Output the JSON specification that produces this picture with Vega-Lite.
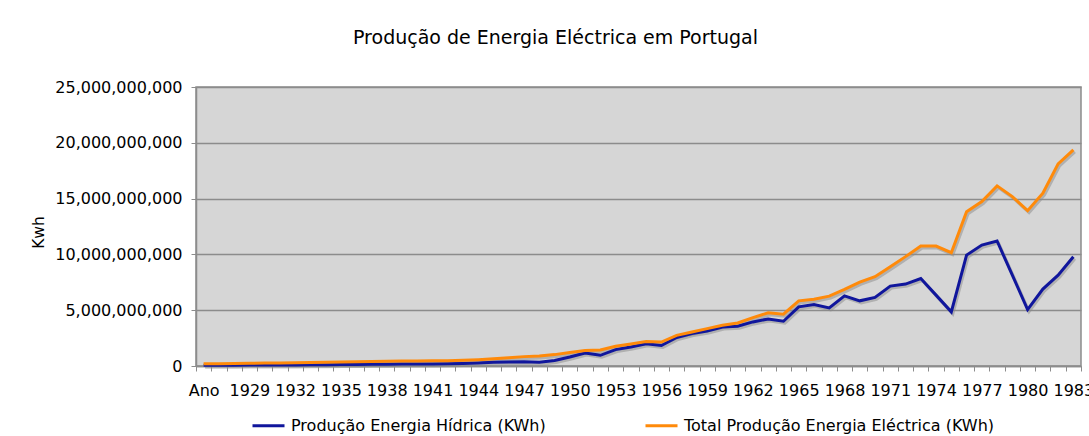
{
  "$schema": "https://vega.github.io/schema/vega-lite/v6.json",
  "width": 885,
  "height": 279,
  "autosize": {"type": "none"},
  "padding": {"left": 196, "top": 87, "right": 8, "bottom": 70},
  "background": "white",
  "title": {
    "text": "Produção de Energia Eléctrica em Portugal",
    "frame": "group",
    "anchor": "middle",
    "baseline": "middle",
    "offset": 22,
    "dx": -83,
    "font": "DejaVu Sans",
    "fontSize": 19,
    "fontWeight": "normal",
    "color": "#000000"
  },
  "config": {
    "font": "DejaVu Sans",
    "view": {"fill": "#D6D6D6", "stroke": "#8C8C8C", "strokeWidth": 1.5}
  },
  "data": {
    "values": [
      {"Ano": "Ano", "hidrica": 60000000, "total": 200000000},
      {"Ano": "1927", "hidrica": 70000000, "total": 210000000},
      {"Ano": "1928", "hidrica": 70000000, "total": 220000000},
      {"Ano": "1929", "hidrica": 80000000, "total": 240000000},
      {"Ano": "1930", "hidrica": 90000000, "total": 260000000},
      {"Ano": "1931", "hidrica": 90000000, "total": 270000000},
      {"Ano": "1932", "hidrica": 100000000, "total": 290000000},
      {"Ano": "1933", "hidrica": 110000000, "total": 310000000},
      {"Ano": "1934", "hidrica": 120000000, "total": 330000000},
      {"Ano": "1935", "hidrica": 130000000, "total": 360000000},
      {"Ano": "1936", "hidrica": 140000000, "total": 380000000},
      {"Ano": "1937", "hidrica": 150000000, "total": 400000000},
      {"Ano": "1938", "hidrica": 160000000, "total": 420000000},
      {"Ano": "1939", "hidrica": 170000000, "total": 440000000},
      {"Ano": "1940", "hidrica": 180000000, "total": 450000000},
      {"Ano": "1941", "hidrica": 190000000, "total": 460000000},
      {"Ano": "1942", "hidrica": 200000000, "total": 480000000},
      {"Ano": "1943", "hidrica": 220000000, "total": 510000000},
      {"Ano": "1944", "hidrica": 270000000, "total": 570000000},
      {"Ano": "1945", "hidrica": 330000000, "total": 660000000},
      {"Ano": "1946", "hidrica": 360000000, "total": 750000000},
      {"Ano": "1947", "hidrica": 390000000, "total": 840000000},
      {"Ano": "1948", "hidrica": 330000000, "total": 900000000},
      {"Ano": "1949", "hidrica": 500000000, "total": 1020000000},
      {"Ano": "1950", "hidrica": 800000000, "total": 1200000000},
      {"Ano": "1951", "hidrica": 1170000000, "total": 1380000000},
      {"Ano": "1952", "hidrica": 960000000, "total": 1440000000},
      {"Ano": "1953", "hidrica": 1470000000, "total": 1770000000},
      {"Ano": "1954", "hidrica": 1700000000, "total": 1980000000},
      {"Ano": "1955", "hidrica": 2000000000, "total": 2200000000},
      {"Ano": "1956", "hidrica": 1830000000, "total": 2150000000},
      {"Ano": "1957", "hidrica": 2550000000, "total": 2750000000},
      {"Ano": "1958", "hidrica": 2900000000, "total": 3050000000},
      {"Ano": "1959", "hidrica": 3140000000, "total": 3350000000},
      {"Ano": "1960", "hidrica": 3500000000, "total": 3650000000},
      {"Ano": "1961", "hidrica": 3560000000, "total": 3860000000},
      {"Ano": "1962", "hidrica": 3950000000, "total": 4340000000},
      {"Ano": "1963", "hidrica": 4220000000, "total": 4760000000},
      {"Ano": "1964", "hidrica": 4010000000, "total": 4640000000},
      {"Ano": "1965", "hidrica": 5300000000, "total": 5840000000},
      {"Ano": "1966", "hidrica": 5500000000, "total": 5990000000},
      {"Ano": "1967", "hidrica": 5200000000, "total": 6260000000},
      {"Ano": "1968", "hidrica": 6290000000, "total": 6860000000},
      {"Ano": "1969", "hidrica": 5840000000, "total": 7510000000},
      {"Ano": "1970", "hidrica": 6150000000, "total": 8000000000},
      {"Ano": "1971", "hidrica": 7160000000, "total": 8900000000},
      {"Ano": "1972", "hidrica": 7340000000, "total": 9800000000},
      {"Ano": "1973", "hidrica": 7840000000, "total": 10750000000},
      {"Ano": "1974", "hidrica": 6350000000, "total": 10750000000},
      {"Ano": "1975", "hidrica": 4850000000, "total": 10150000000},
      {"Ano": "1976", "hidrica": 9940000000, "total": 13830000000},
      {"Ano": "1977", "hidrica": 10840000000, "total": 14730000000},
      {"Ano": "1978", "hidrica": 11200000000, "total": 16140000000},
      {"Ano": "1979", "hidrica": 8140000000, "total": 15180000000},
      {"Ano": "1980", "hidrica": 5060000000, "total": 13920000000},
      {"Ano": "1981", "hidrica": 6890000000, "total": 15480000000},
      {"Ano": "1982", "hidrica": 8140000000, "total": 18110000000},
      {"Ano": "1983", "hidrica": 9790000000, "total": 19370000000}
    ]
  },
  "transform": [
    {"fold": ["hidrica", "total"], "as": ["serie_key", "kwh"]},
    {"lookup": "serie_key", "from": {"data": {"values": [
      {"serie_key": "hidrica", "serie": "Produção Energia Hídrica (KWh)"},
      {"serie_key": "total", "serie": "Total Produção Energia Eléctrica (KWh)"}
    ]}, "key": "serie_key", "fields": ["serie"]}}
  ],
  "encoding": {
    "x": {
      "field": "Ano",
      "type": "ordinal",
      "sort": null,
      "scale": {"paddingInner": 0, "paddingOuter": 0},
      "axis": {
        "title": null,
        "labelAngle": 0,
        "labelOverlap": false,
        "labelExpr": "(datum.value == 'Ano' || (+datum.value) % 3 == 0) ? datum.label : ''",
        "tickBand": "extent",
        "tickSize": 5,
        "tickColor": "#8C8C8C",
        "domainColor": "#8C8C8C",
        "domainWidth": 1.5,
        "labelFontSize": 16,
        "labelColor": "#000000",
        "labelPadding": 11,
        "grid": false
      }
    },
    "y": {
      "field": "kwh",
      "type": "quantitative",
      "scale": {"domain": [0, 25000000000], "nice": false},
      "axis": {
        "title": "Kwh",
        "titleFontSize": 15.5,
        "titleFontWeight": "normal",
        "titleColor": "#000000",
        "titleAngle": -90,
        "titleX": -158,
        "titleY": 145,
        "titleAlign": "center",
        "titleBaseline": "middle",
        "values": [0, 5000000000, 10000000000, 15000000000, 20000000000, 25000000000],
        "format": ",.0f",
        "labelFontSize": 16,
        "labelColor": "#000000",
        "labelPadding": 9,
        "tickSize": 5,
        "tickColor": "#8C8C8C",
        "domainColor": "#8C8C8C",
        "domainWidth": 1.5,
        "grid": true,
        "gridColor": "#8C8C8C",
        "gridWidth": 1.3
      }
    }
  },
  "layer": [
    {
      "mark": {"type": "line", "strokeWidth": 3, "color": "#8a8a8a", "opacity": 0.5, "xOffset": 1.5, "yOffset": 2},
      "encoding": {"detail": {"field": "serie"}}
    },
    {
      "mark": {"type": "line", "strokeWidth": 3},
      "encoding": {
        "color": {
          "field": "serie",
          "type": "nominal",
          "scale": {
            "domain": ["Produção Energia Hídrica (KWh)", "Total Produção Energia Eléctrica (KWh)"],
            "range": ["#10169C", "#FF8A0A"]
          },
          "legend": {
            "title": null,
            "orient": "none",
            "legendX": 55,
            "legendY": 321,
            "direction": "horizontal",
            "columns": 2,
            "columnPadding": 93,
            "padding": 0,
            "symbolType": "stroke",
            "symbolSize": 1024,
            "symbolStrokeWidth": 3,
            "labelFontSize": 16,
            "labelColor": "#000000",
            "labelOffset": 5,
            "labelLimit": 400
          }
        }
      }
    }
  ]
}
